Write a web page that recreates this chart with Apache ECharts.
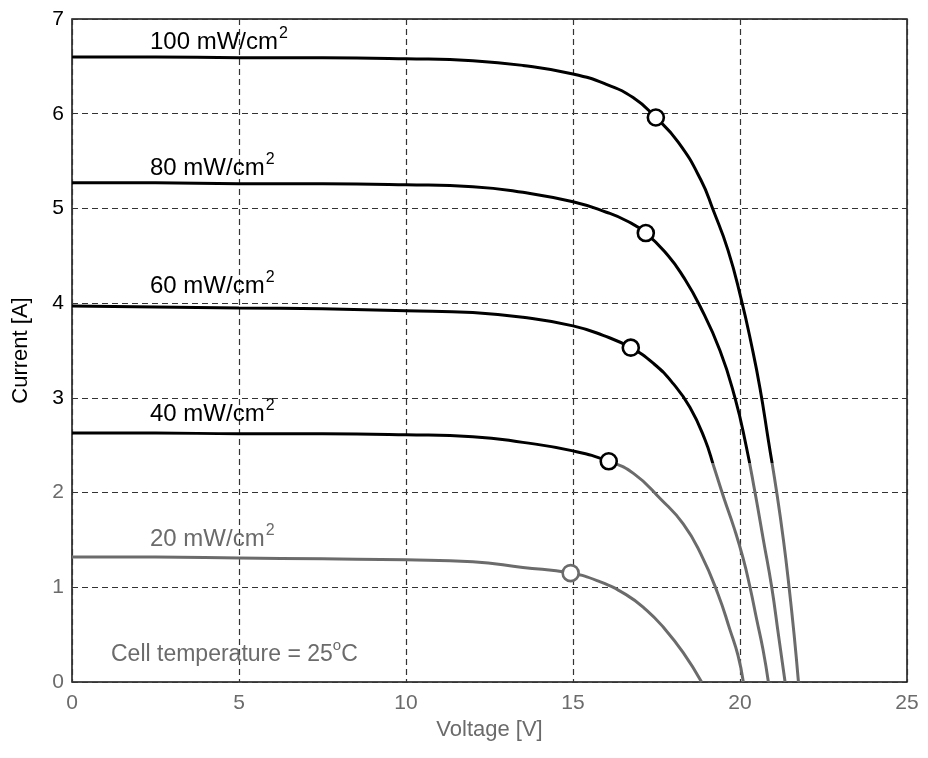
<!DOCTYPE html>
<html>
<head>
<meta charset="utf-8">
<script src="https://cdn.jsdelivr.net/npm/echarts@6/dist/echarts.min.js"></script>
<style>
  html, body { margin: 0; padding: 0; background: #fff; }
  #chart { width: 928px; height: 758px; }
</style>
</head>
<body>
<div id="chart"></div>
<script>
// I-V curves: [voltage, current]
const curve100 = [[0, 6.6], [2.5, 6.6], [5, 6.59], [7.5, 6.59], [10, 6.58], [12, 6.56], [13.5, 6.51], [15, 6.42], [16, 6.31], [16.8, 6.17], [17.48, 5.96], [18.15, 5.7], [18.83, 5.3], [19.2, 4.98], [19.64, 4.56], [20.03, 4.05], [20.35, 3.55], [20.6, 3.1], [20.85, 2.55], [21.1, 2.0], [21.3, 1.5], [21.47, 1.0], [21.62, 0.5], [21.75, 0]]
const curve80 = [[0, 5.27], [2.5, 5.27], [5, 5.26], [7.5, 5.26], [10, 5.25], [12, 5.23], [13.5, 5.17], [15, 5.07], [16, 4.96], [16.6, 4.87], [17.18, 4.74], [17.85, 4.5], [18.3, 4.28], [18.8, 3.97], [19.4, 3.5], [19.85, 3.0], [20.18, 2.5], [20.45, 2.0], [20.7, 1.5], [20.95, 1.0], [21.15, 0.5], [21.35, 0]]
const curve60 = [[0, 3.97], [2.5, 3.96], [5, 3.95], [7.5, 3.94], [10, 3.92], [12, 3.9], [13.5, 3.85], [15, 3.76], [15.9, 3.66], [16.73, 3.53], [17.42, 3.36], [18.0, 3.15], [18.5, 2.9], [18.95, 2.56], [19.22, 2.27], [19.52, 1.94], [19.82, 1.63], [20.09, 1.31], [20.3, 1.0], [20.5, 0.66], [20.69, 0.34], [20.85, 0]]
const curve40 = [[0, 2.63], [2.5, 2.63], [5, 2.62], [7.5, 2.62], [10, 2.61], [12, 2.59], [13.5, 2.53], [15, 2.44], [16.07, 2.33], [16.82, 2.2], [17.63, 1.93], [18.3, 1.67], [18.83, 1.35], [19.34, 0.93], [19.7, 0.55], [19.94, 0.28], [20.1, 0]]
const curve20 = [[0, 1.32], [2.5, 1.32], [5, 1.31], [7.5, 1.3], [10, 1.29], [12, 1.27], [13.5, 1.21], [14.93, 1.15], [15.8, 1.06], [16.6, 0.92], [17.2, 0.76], [17.7, 0.58], [18.3, 0.31], [18.85, 0]]

// maximum power points (circles)
const mppV = [17.48, 17.18, 16.73, 16.07, 14.93]
const mppI = [5.96, 4.74, 3.53, 2.33, 1.15]

const curveNames = ['100 mW/cm2', '80 mW/cm2', '60 mW/cm2', '40 mW/cm2', '20 mW/cm2']
const xTicks = [0, 5, 10, 15, 20, 25]
const yTicks = [0, 1, 2, 3, 4, 5, 6, 7]

const FONT = '"Liberation Sans", Arial, Helvetica, sans-serif'
const GRAY = '#6b6b6b'
// the scan turns grey below roughly 2.3 A (pixel row ~463 of 758)
const FADE = 463 / 758

const chart = echarts.init(document.getElementById('chart'))

const scanColor = () => new echarts.graphic.LinearGradient(0, 0, 0, 758, [
  { offset: 0, color: '#000' },
  { offset: FADE, color: '#000' },
  { offset: FADE, color: GRAY },
  { offset: 1, color: GRAY }
], true)

const lineSeries = [curve100, curve80, curve60, curve40, curve20].map((d, i) => ({
  name: curveNames[i],
  type: 'line',
  data: d,
  smooth: 0.5,
  showSymbol: false,
  lineStyle: { width: 3, color: scanColor() },
  itemStyle: { color: '#000' },
  z: 2
}))

const irrLabel = (txt, x, y, color) => ({
  type: 'text',
  x: x,
  y: y,
  z: 10,
  style: {
    text: '{a|' + txt + '}{s|2}',
    fill: color,
    verticalAlign: 'middle',
    rich: {
      a: { fontSize: 24, fontFamily: FONT, fill: color, lineHeight: 28, verticalAlign: 'bottom' },
      s: { fontSize: 16, fontFamily: FONT, fill: color, lineHeight: 28, verticalAlign: 'top', padding: [0, 0, 0, 1] }
    }
  }
})

chart.setOption({
  animation: false,
  backgroundColor: '#fff',
  grid: { left: 72, right: 21, top: 19, bottom: 76, show: true, borderColor: '#111', borderWidth: 1.5 },
  xAxis: {
    type: 'value',
    min: 0,
    max: 25,
    interval: 5,
    name: 'Voltage [V]',
    nameLocation: 'middle',
    nameGap: 37,
    nameTextStyle: { fontSize: 22, fontFamily: FONT, color: GRAY },
    axisLine: { show: false },
    axisTick: { show: false },
    axisLabel: {
      fontSize: 21,
      fontFamily: FONT,
      margin: 11,
      color: v => (v === xTicks[xTicks.length - 1] ? '#000' : GRAY)
    },
    splitLine: { lineStyle: { type: [6, 4], color: '#333', width: 1.2 } }
  },
  yAxis: {
    type: 'value',
    min: 0,
    max: 7,
    interval: 1,
    name: 'Current [A]',
    nameLocation: 'middle',
    nameGap: 40,
    nameTextStyle: { fontSize: 22, fontFamily: FONT, color: '#000' },
    axisLine: { show: false },
    axisTick: { show: false },
    axisLabel: {
      fontSize: 21,
      fontFamily: FONT,
      margin: 8,
      color: v => (v <= yTicks[2] ? GRAY : '#000')
    },
    splitLine: { lineStyle: { type: [6, 4], color: '#333', width: 1.2 } }
  },
  series: lineSeries.concat([{
    name: 'MPP',
    type: 'scatter',
    symbol: 'circle',
    symbolSize: 16,
    itemStyle: { opacity: 1, color: '#fff', borderWidth: 2.6, borderColor: '#000' },
    data: mppV.map((v, i) => ({
      value: [v, mppI[i]],
      itemStyle: { borderColor: mppI[i] < 2 ? GRAY : '#000' }
    })),
    z: 5
  }]),
  graphic: [
    irrLabel('100 mW/cm', 150, 40, '#000'),
    irrLabel('80 mW/cm', 150, 166, '#000'),
    irrLabel('60 mW/cm', 150, 284, '#000'),
    irrLabel('40 mW/cm', 150, 412, '#000'),
    irrLabel('20 mW/cm', 150, 537, GRAY),
    {
      type: 'text',
      x: 111,
      y: 652,
      z: 10,
      style: {
        text: '{a|Cell temperature = 25}{s|o}{a|C}',
        verticalAlign: 'middle',
        rich: {
          a: { fontSize: 23, fontFamily: FONT, fill: GRAY, lineHeight: 28, verticalAlign: 'bottom' },
          s: { fontSize: 15, fontFamily: FONT, fill: GRAY, lineHeight: 28, verticalAlign: 'top' }
        }
      }
    }
  ]
})

window.addEventListener('resize', () => chart.resize())
</script>
</body>
</html>
